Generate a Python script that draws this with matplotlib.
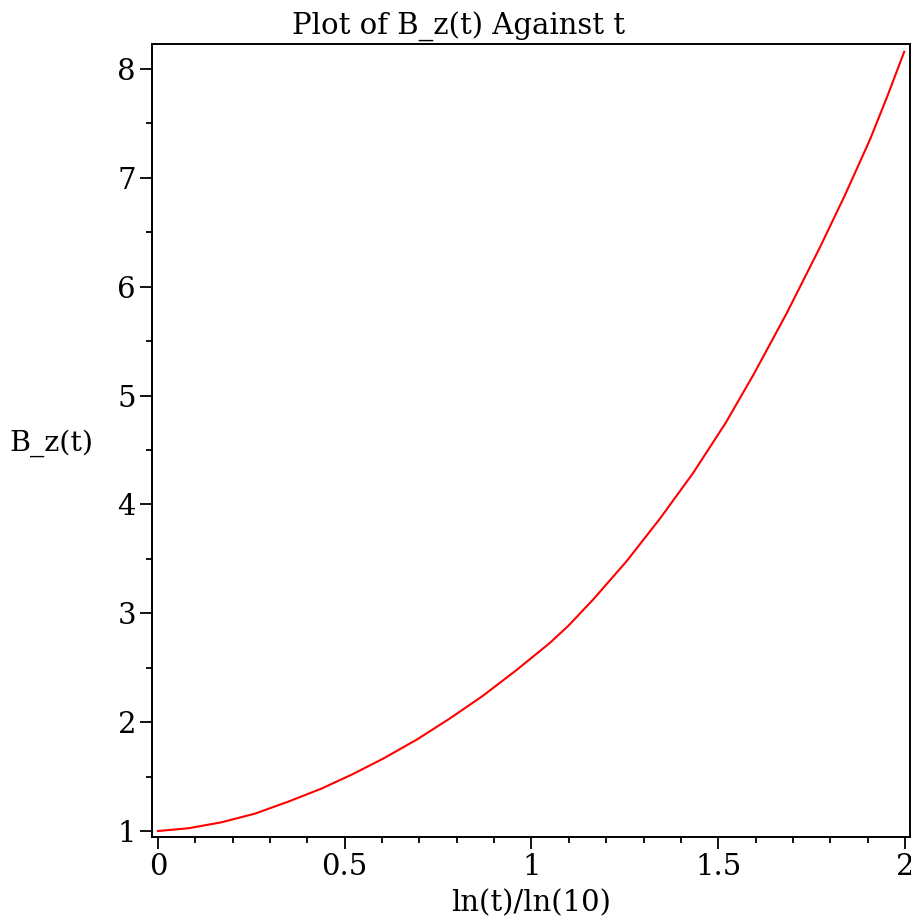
import matplotlib
matplotlib.use("Agg")
import matplotlib.pyplot as plt
from matplotlib.ticker import MultipleLocator, FixedLocator

# data
x_vals = [0.000, 0.081, 0.170, 0.260, 0.349, 0.438, 0.520, 0.603, 0.693, 0.782, 0.871,
          0.960, 1.050, 1.100, 1.166, 1.255, 1.344, 1.433, 1.520, 1.594, 1.683, 1.772,
          1.839, 1.906, 1.951, 1.998]
y_vals = [1.000, 1.025, 1.080, 1.160, 1.270, 1.390, 1.520, 1.665, 1.840, 2.035, 2.245,
          2.479, 2.730, 2.890, 3.130, 3.480, 3.870, 4.290, 4.750, 5.190, 5.755, 6.360,
          6.840, 7.350, 7.735, 8.159]
x_ticks = [0, 0.5, 1, 1.5, 2]
x_tick_labels = ["0", "0.5", "1", "1.5", "2"]
y_ticks = [1, 2, 3, 4, 5, 6, 7, 8]
y_tick_labels = ["1", "2", "3", "4", "5", "6", "7", "8"]

plt.rcParams['font.family'] = ['DejaVu Serif']

W, H = 912, 918
fig = plt.figure(figsize=(W / 100, H / 100), dpi=100)
L, R, B, T = 152, 910, 837, 44
ax = fig.add_axes([L / W, 1 - B / H, (R - L) / W, (B - T) / H])

ax.plot(x_vals, y_vals, color="#ff0000", lw=1.5, solid_joinstyle="round")

ax.set_xlim(-0.016, 2.0134)
ax.set_ylim(0.945, 8.23)

ax.xaxis.set_major_locator(FixedLocator(x_ticks))
ax.set_xticklabels(x_tick_labels)
ax.xaxis.set_minor_locator(MultipleLocator(0.1))
ax.yaxis.set_major_locator(FixedLocator(y_ticks))
ax.set_yticklabels(y_tick_labels)
ax.yaxis.set_minor_locator(MultipleLocator(0.5))

ax.tick_params(which="major", direction="out", length=8.5, width=1.3, labelsize=21, pad=3, colors="black")
ax.tick_params(which="minor", direction="out", length=4, width=1.3)
ax.tick_params(axis="y", which="minor", length=4.5)
for s in ax.spines.values():
    s.set_linewidth(1.4)

fig.text(459 / W, 1 - 27 / H, "Plot of B_z(t) Against t", ha="center", va="center", fontsize=21)
fig.text(51 / W, 1 - 443 / H, "B_z(t)", ha="center", va="center", fontsize=20.5)
fig.text(531 / W, 1 - 903 / H, "ln(t)/ln(10)", ha="center", va="center", fontsize=21)

fig.savefig("out.png", dpi=100)
